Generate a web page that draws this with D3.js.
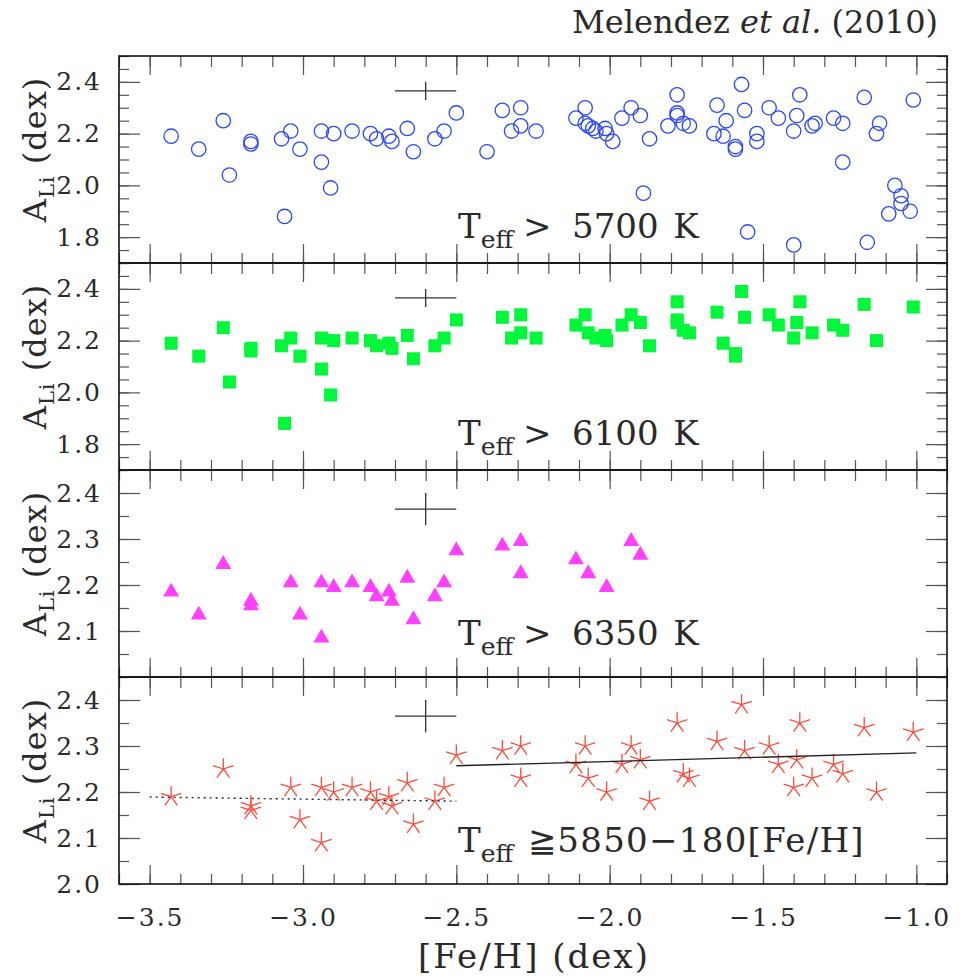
<!DOCTYPE html>
<html>
<head>
<meta charset="utf-8">
<script src="https://cdn.jsdelivr.net/npm/d3@7"></script>
<style>
  body { margin: 0; background: #fff; }
  text { font-family: "DejaVu Serif", serif; fill: #2a2a2a; }
</style>
</head>
<body>
<svg id="chart" width="973" height="978"></svg>
<script>
// [Fe/H], A(Li)
const hot5700 = [
  [-3.43, 2.19], [-3.34, 2.14], [-3.26, 2.25], [-3.24, 2.04], [-3.17, 2.17], [-3.17, 2.16],
  [-3.07, 2.18], [-3.06, 1.88], [-3.04, 2.21], [-3.01, 2.14], [-2.94, 2.21], [-2.94, 2.09],
  [-2.91, 1.99], [-2.90, 2.20], [-2.84, 2.21], [-2.78, 2.20], [-2.76, 2.18], [-2.72, 2.19],
  [-2.71, 2.17], [-2.66, 2.22], [-2.64, 2.13], [-2.57, 2.18], [-2.54, 2.21], [-2.50, 2.28],
  [-2.40, 2.13], [-2.35, 2.29], [-2.29, 2.30], [-2.32, 2.21], [-2.29, 2.23], [-2.24, 2.21],
  [-2.11, 2.26], [-2.08, 2.30], [-2.08, 2.24], [-2.07, 2.23], [-2.055, 2.22], [-2.045, 2.21],
  [-2.015, 2.22], [-2.01, 2.20], [-1.99, 2.17], [-1.96, 2.26], [-1.93, 2.30], [-1.90, 2.27],
  [-1.89, 1.97], [-1.87, 2.18], [-1.81, 2.23], [-1.78, 2.35], [-1.78, 2.28], [-1.78, 2.27],
  [-1.76, 2.24], [-1.74, 2.23], [-1.66, 2.20], [-1.65, 2.31], [-1.63, 2.19], [-1.62, 2.25],
  [-1.59, 2.15], [-1.59, 2.14], [-1.57, 2.39], [-1.56, 2.29], [-1.55, 1.82], [-1.52, 2.20],
  [-1.52, 2.17], [-1.48, 2.30], [-1.45, 2.26], [-1.40, 2.21], [-1.40, 1.77], [-1.39, 2.27],
  [-1.38, 2.35], [-1.34, 2.23], [-1.33, 2.24], [-1.27, 2.26], [-1.24, 2.24], [-1.24, 2.09],
  [-1.17, 2.34], [-1.16, 1.78], [-1.12, 2.24], [-1.13, 2.20], [-1.07, 2.00], [-1.05, 1.96],
  [-1.05, 1.93], [-1.09, 1.89], [-1.02, 1.90], [-1.01, 2.33]
];
const hot6100 = [
  [-3.43, 2.19], [-3.34, 2.14], [-3.26, 2.25], [-3.24, 2.04], [-3.17, 2.17], [-3.17, 2.16],
  [-3.07, 2.18], [-3.06, 1.88], [-3.04, 2.21], [-3.01, 2.14], [-2.94, 2.21], [-2.94, 2.09],
  [-2.91, 1.99], [-2.90, 2.20], [-2.84, 2.21], [-2.78, 2.20], [-2.76, 2.18], [-2.72, 2.19],
  [-2.71, 2.17], [-2.66, 2.22], [-2.64, 2.13], [-2.57, 2.18], [-2.54, 2.21], [-2.50, 2.28],
  [-2.35, 2.29], [-2.29, 2.30], [-2.32, 2.21], [-2.29, 2.23], [-2.24, 2.21], [-2.11, 2.26],
  [-2.08, 2.30], [-2.07, 2.23], [-2.045, 2.21], [-2.015, 2.22], [-2.01, 2.20], [-1.96, 2.26],
  [-1.93, 2.30], [-1.90, 2.27], [-1.87, 2.18], [-1.78, 2.35], [-1.78, 2.28], [-1.78, 2.27],
  [-1.76, 2.24], [-1.74, 2.23], [-1.65, 2.31], [-1.63, 2.19], [-1.59, 2.15], [-1.59, 2.14],
  [-1.57, 2.39], [-1.56, 2.29], [-1.48, 2.30], [-1.45, 2.26], [-1.40, 2.21], [-1.39, 2.27],
  [-1.38, 2.35], [-1.34, 2.23], [-1.27, 2.26], [-1.24, 2.24], [-1.17, 2.34], [-1.13, 2.20],
  [-1.01, 2.33]
];
const hot6350 = [
  [-3.43, 2.19], [-3.34, 2.14], [-3.26, 2.25], [-3.17, 2.17], [-3.17, 2.16], [-3.04, 2.21],
  [-3.01, 2.14], [-2.94, 2.21], [-2.94, 2.09], [-2.90, 2.20], [-2.84, 2.21], [-2.78, 2.20],
  [-2.76, 2.18], [-2.72, 2.19], [-2.71, 2.17], [-2.66, 2.22], [-2.64, 2.13], [-2.57, 2.18],
  [-2.54, 2.21], [-2.50, 2.28], [-2.35, 2.29], [-2.29, 2.30], [-2.29, 2.23], [-2.11, 2.26],
  [-2.07, 2.23], [-2.01, 2.20], [-1.93, 2.30], [-1.90, 2.27]
];
const cut5850 = [
  [-3.43, 2.19], [-3.26, 2.25], [-3.17, 2.17], [-3.17, 2.16], [-3.04, 2.21], [-3.01, 2.14],
  [-2.94, 2.21], [-2.94, 2.09], [-2.90, 2.20], [-2.84, 2.21], [-2.78, 2.20], [-2.76, 2.18],
  [-2.72, 2.19], [-2.71, 2.17], [-2.66, 2.22], [-2.64, 2.13], [-2.57, 2.18], [-2.54, 2.21],
  [-2.50, 2.28], [-2.35, 2.29], [-2.29, 2.30], [-2.29, 2.23], [-2.11, 2.26], [-2.08, 2.30],
  [-2.07, 2.23], [-2.01, 2.20], [-1.96, 2.26], [-1.93, 2.30], [-1.90, 2.27], [-1.87, 2.18],
  [-1.78, 2.35], [-1.76, 2.24], [-1.74, 2.23], [-1.65, 2.31], [-1.57, 2.39], [-1.56, 2.29],
  [-1.48, 2.30], [-1.45, 2.26], [-1.40, 2.21], [-1.39, 2.27], [-1.38, 2.35], [-1.34, 2.23],
  [-1.27, 2.26], [-1.24, 2.24], [-1.17, 2.34], [-1.13, 2.20], [-1.01, 2.33]
];

// fits in the bottom panel
const fitMetalPoor = [[-3.5, 2.189], [-2.5, 2.180]];
const fitMetalRich = [[-2.5, 2.257], [-1.0, 2.285]];

// typical error bar: centre, then half sizes
const errCentre = [-2.6, 2.365];
const errHalf = [0.1, 0.035];

const xTicks = [-3.5, -3.0, -2.5, -2.0, -1.5, -1.0];
const yTicksWide = [1.8, 2.0, 2.2, 2.4];
const yTicksP3 = [2.1, 2.2, 2.3, 2.4];
const yTicksP4 = [2.0, 2.1, 2.2, 2.3, 2.4];
const cutLabels = ["5700 K", "6100 K", "6350 K", "\u22675850\u2212180[Fe/H]"];

const svg = d3.select('#chart');
const left = 119, right = 947, top0 = 56, panelH = 207;

const x = d3.scaleLinear().domain([-3.6, -0.9]).range([left, right]);
const xMinor = d3.range(-36, -8).map(d => d / 10);

const triangle = {
  draw(ctx, size) {
    const s = Math.sqrt(size), h = s * Math.sqrt(3) / 2;
    ctx.moveTo(0, -h / 2);
    ctx.lineTo(s / 2, h / 2);
    ctx.lineTo(-s / 2, h / 2);
    ctx.closePath();
  }
};
const asterisk5 = {
  draw(ctx, size) {
    const r = Math.sqrt(size);
    for (let k = 0; k < 5; k++) {
      const a = -Math.PI / 2 + k * 2 * Math.PI / 5;
      ctx.moveTo(0, 0);
      ctx.lineTo(r * Math.cos(a), r * Math.sin(a));
    }
  }
};

const panels = [
  { pts: hot5700, dom: [1.7, 2.5], ticks: yTicksWide, minor: d3.range(34, 51), kind: 'circle', labelDy: 182 },
  { pts: hot6100, dom: [1.7, 2.5], ticks: yTicksWide, minor: d3.range(34, 51), kind: 'square', labelDy: 182 },
  { pts: hot6350, dom: [2.0, 2.45], ticks: yTicksP3, minor: d3.range(40, 50), kind: 'triangle', labelDy: 175 },
  { pts: cut5850, dom: [2.0, 2.45], ticks: yTicksP4, minor: d3.range(40, 50), kind: 'star', labelDy: 175 }
];

function styleTicks(g) {
  g.select('.domain').remove();
  g.selectAll('line').attr('stroke', '#555').attr('stroke-width', 1.2);
  g.selectAll('text')
    .attr('font-family', '"DejaVu Serif", serif')
    .attr('font-size', 25)
    .attr('letter-spacing', 2)
    .attr('fill', '#333');
}

panels.forEach((p, i) => {
  const top = top0 + i * panelH, bottom = top + panelH;
  const y = d3.scaleLinear().domain(p.dom).range([bottom, top]);
  const yMinor = p.minor.map(d => d / 20);
  const g = svg.append('g').attr('class', 'panel');

  // ticks on all four sides, pointing inward
  g.append('g').attr('transform', `translate(0,${bottom})`)
    .call(d3.axisBottom(x).tickValues(xMinor).tickSize(-10).tickFormat('')).call(styleTicks);
  g.append('g').attr('transform', `translate(0,${top})`)
    .call(d3.axisTop(x).tickValues(xMinor).tickSize(-11).tickFormat('')).call(styleTicks);
  g.append('g').attr('transform', `translate(0,${top})`)
    .call(d3.axisTop(x).tickValues(xTicks).tickSize(-19).tickFormat('')).call(styleTicks);
  g.append('g').attr('transform', `translate(0,${bottom})`)
    .call(d3.axisBottom(x).tickValues(xTicks).tickSize(-19)
      .tickPadding(24).tickFormat(i === 3 ? d3.format('.1f') : ''))
    .call(styleTicks);

  g.append('g').attr('transform', `translate(${left},0)`)
    .call(d3.axisLeft(y).tickValues(yMinor).tickSize(-10).tickFormat('')).call(styleTicks);
  g.append('g').attr('transform', `translate(${right},0)`)
    .call(d3.axisRight(y).tickValues(yMinor).tickSize(-10).tickFormat('')).call(styleTicks);
  g.append('g').attr('transform', `translate(${left},0)`)
    .call(d3.axisLeft(y).tickValues(p.ticks).tickSize(-21).tickPadding(17).tickFormat(d3.format('.1f')))
    .call(styleTicks);
  g.append('g').attr('transform', `translate(${right},0)`)
    .call(d3.axisRight(y).tickValues(p.ticks).tickSize(-21).tickFormat('')).call(styleTicks);

  // frame
  g.append('rect')
    .attr('x', left).attr('y', top)
    .attr('width', right - left).attr('height', panelH)
    .attr('fill', 'none').attr('stroke', '#111').attr('stroke-width', 1.6);

  // typical error cross
  const ex = x(errCentre[0]), ey = y(errCentre[1]);
  g.append('path')
    .attr('d', `M${x(errCentre[0] - errHalf[0])},${ey}H${x(errCentre[0] + errHalf[0])}` +
               `M${ex},${y(errCentre[1] + errHalf[1])}V${y(errCentre[1] - errHalf[1])}`)
    .attr('stroke', '#333').attr('stroke-width', 1.3).attr('fill', 'none');

  // cut label
  const lab = g.append('text').attr('x', 458).attr('y', top + p.labelDy).attr('font-size', 34);
  lab.append('tspan').text('T');
  lab.append('tspan').attr('font-size', 25).attr('dy', 10).text('eff');
  if (i < 3) {
    lab.append('tspan').attr('dy', -10).attr('x', 523).text('>');
    lab.append('tspan').attr('x', 572).attr('word-spacing', 4).text(cutLabels[i]);
  } else {
    lab.append('tspan').attr('dy', -10).attr('x', 528).attr('letter-spacing', 1.3).text(cutLabels[i]);
  }

  // y title
  const yt = g.append('text')
    .attr('transform', `translate(46,${top + panelH / 2 - 10}) rotate(-90)`)
    .attr('text-anchor', 'middle').attr('font-size', 32).attr('letter-spacing', 1);
  yt.append('tspan').text('A');
  yt.append('tspan').attr('font-size', 21).attr('dy', 8).text('Li');
  yt.append('tspan').attr('dy', -8).text('\u00a0(dex)');

  // markers
  const marks = g.append('g');
  if (p.kind === 'circle') {
    marks.selectAll('circle').data(p.pts).join('circle')
      .attr('cx', d => x(d[0])).attr('cy', d => y(d[1])).attr('r', 7.2)
      .attr('fill', 'none').attr('stroke', '#2846ff').attr('stroke-width', 1.3);
  } else if (p.kind === 'square') {
    marks.selectAll('rect').data(p.pts).join('rect')
      .attr('x', d => x(d[0]) - 6.5).attr('y', d => y(d[1]) - 6.5)
      .attr('width', 13).attr('height', 13).attr('fill', '#00f73a');
  } else if (p.kind === 'triangle') {
    marks.selectAll('path').data(p.pts).join('path')
      .attr('d', d3.symbol(triangle, 256))
      .attr('transform', d => `translate(${x(d[0])},${y(d[1])})`)
      .attr('fill', '#ff40ff');
  } else {
    marks.selectAll('path').data(p.pts).join('path')
      .attr('d', d3.symbol(asterisk5, 115))
      .attr('transform', d => `translate(${x(d[0])},${y(d[1])})`)
      .attr('fill', 'none').attr('stroke', '#ff4a3a').attr('stroke-width', 1.3);

    const line = d3.line().x(d => x(d[0])).y(d => y(d[1]));
    g.append('path').datum(fitMetalPoor).attr('d', line)
      .attr('fill', 'none').attr('stroke', '#222').attr('stroke-width', 1.4)
      .attr('stroke-dasharray', '2,4');
    g.append('path').datum(fitMetalRich).attr('d', line)
      .attr('fill', 'none').attr('stroke', '#222').attr('stroke-width', 1.4);
  }
});

// x title
svg.append('text').attr('x', 534).attr('y', 968).attr('text-anchor', 'middle')
  .attr('font-size', 34).attr('letter-spacing', 2).text('[Fe/H] (dex)');

// citation
const cite = svg.append('text').attr('x', 938).attr('y', 33).attr('text-anchor', 'end')
  .attr('font-size', 32).attr('fill', '#111');
cite.append('tspan').text('Melendez ');
cite.append('tspan').attr('font-style', 'italic').text('et al.');
cite.append('tspan').text(' (2010)');
</script>
</body>
</html>
